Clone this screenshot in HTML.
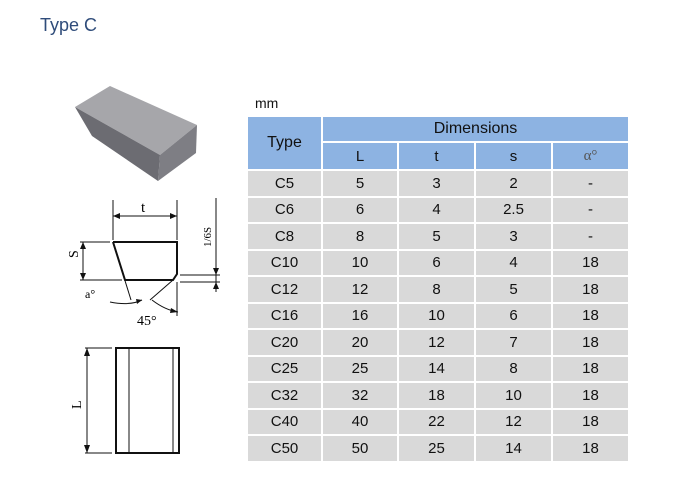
<!DOCTYPE html>
<html><head><meta charset="utf-8"><style>
body{margin:0;width:700px;height:485px;background:#fff;position:relative;overflow:hidden;font-family:"Liberation Sans",Arial,sans-serif}
.c{position:absolute;display:flex;align-items:center;justify-content:center;font-size:15px;color:#111;box-sizing:border-box}
.h{background:#8db3e2}
.d{background:#d9d9d9}
</style></head><body>
<div style="position:absolute;left:40px;top:15px;font-size:18px;color:#2f4c7a">Type C</div>
<div style="position:absolute;left:255px;top:95px;font-size:14px;color:#111">mm</div>
<svg width="700" height="485" style="position:absolute;left:0;top:0">
<polygon points="75,107 110,86 197,125 160,155" fill="#a6a6aa"/>
<polygon points="160,155 197,125 196,153 158,181" fill="#7e7e84"/>
<polygon points="75,107 160,155 158,181 92,136" fill="#6c6c72"/>
<g stroke="#111" fill="none">
<polyline points="113,242 177,242 177,274 173,280 125,280 113,242" stroke-width="2"/>
<line x1="113" y1="200" x2="113" y2="240" stroke-width="1"/>
<line x1="177" y1="200" x2="177" y2="240" stroke-width="1"/>
<line x1="113" y1="216" x2="177" y2="216" stroke-width="1"/>
<line x1="80" y1="242" x2="110" y2="242"/>
<line x1="80" y1="280" x2="122" y2="280"/>
<line x1="83" y1="242" x2="83" y2="280"/>
<line x1="180" y1="275" x2="220" y2="275"/>
<line x1="180" y1="282" x2="220" y2="282"/>
<line x1="216" y1="198" x2="216" y2="292"/>
<line x1="113" y1="242" x2="131" y2="300"/>
<path d="M110,302 Q130,306 142,300"/>
<line x1="173" y1="280" x2="150" y2="300"/>
<path d="M152,300 Q165,310 178,312"/>
<line x1="177" y1="282" x2="177" y2="316"/>
<rect x="116" y="348" width="63" height="105" stroke-width="2"/>
<line x1="129" y1="348" x2="129" y2="453"/>
<line x1="173" y1="348" x2="173" y2="453"/>
<line x1="85" y1="348" x2="112" y2="348"/>
<line x1="85" y1="453" x2="112" y2="453"/>
<line x1="87" y1="348" x2="87" y2="453"/>
</g>
<g fill="#111">
<polygon points="113,216 120,213 120,219"/><polygon points="177,216 170,213 170,219"/>
<polygon points="83,242 80,249 86,249"/><polygon points="83,280 80,273 86,273"/>
<polygon points="216,275 213,268 219,268"/><polygon points="216,282 213,289 219,289"/>
<polygon points="87,348 84,356 90,356"/><polygon points="87,453 84,445 90,445"/>
<polygon points="142,300 136,299 137,304"/><polygon points="178,312 171,308 170,313"/>
</g>
<text x="141" y="212" font-family="Liberation Serif" font-size="15">t</text>
<text x="78" y="266" font-family="Liberation Serif" font-size="14" transform="rotate(-90 74 262)">S</text>
<text x="85" y="298" font-family="Liberation Serif" font-size="12">a°</text>
<text x="137" y="325" font-family="Liberation Serif" font-size="14">45°</text>
<text x="200" y="248" font-family="Liberation Serif" font-size="11" transform="rotate(-90 205 242)">1/6S</text>
<text x="72" y="410" font-family="Liberation Serif" font-size="14" transform="rotate(-90 76 405)">L</text>
</svg>
<div class="c h" style="left:248px;top:117px;width:73px;height:52px;font-size:16px">Type</div>
<div class="c h" style="left:323px;top:117px;width:305px;height:24px;font-size:16px">Dimensions</div>
<div class="c h" style="left:323px;top:143px;width:74px;height:26px">L</div>
<div class="c h" style="left:399px;top:143px;width:75px;height:26px">t</div>
<div class="c h" style="left:476px;top:143px;width:75px;height:26px">s</div>
<div class="c h" style="left:553px;top:143px;width:75px;height:26px;font-family:'Liberation Serif';color:#555">α°</div>
<div id="rows"></div>
<script>
var r=[["C5",5,3,2,"-"],["C6",6,4,2.5,"-"],["C8",8,5,3,"-"],["C10",10,6,4,18],["C12",12,8,5,18],["C16",16,10,6,18],["C20",20,12,7,18],["C25",25,14,8,18],["C32",32,18,10,18],["C40",40,22,12,18],["C50",50,25,14,18]];
var xs=[248,323,399,476,553],ws=[73,74,75,75,75],h="";
for(var i=0;i<r.length;i++){var y=171+i*26.5;for(var j=0;j<5;j++)h+='<div class="c d" style="left:'+xs[j]+'px;top:'+y+'px;width:'+ws[j]+'px;height:24.5px">'+r[i][j]+'</div>';}
document.getElementById("rows").innerHTML=h;
</script>
</body></html>
